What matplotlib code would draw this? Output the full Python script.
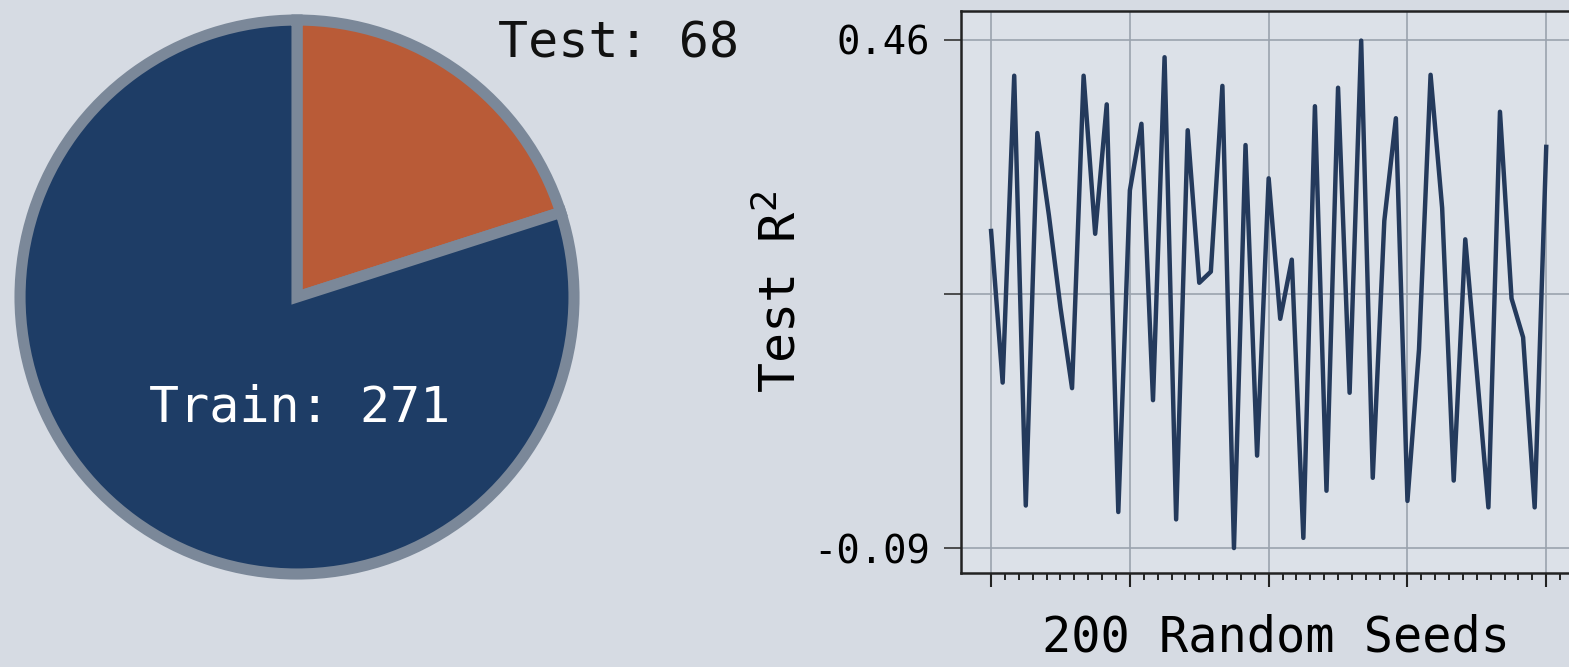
import matplotlib.pyplot as plt
from matplotlib.ticker import FixedLocator

# split sizes
split_labels = ["Train", "Test"]
split_counts = [271, 68]
split_colors = ["#1e3d66", "#b95b37"]

# test R^2 for each seed run
r2_scores = [
    0.253, 0.089, 0.421, -0.044, 0.359, 0.27, 0.17, 0.083, 0.421, 0.250,
    0.390, -0.051, 0.297, 0.369, 0.070, 0.441, -0.059, 0.362, 0.197, 0.209,
    0.410, -0.090, 0.346, 0.010, 0.310, 0.158, 0.222, -0.079, 0.388, -0.028,
    0.408, 0.078, 0.459, -0.014, 0.264, 0.375, -0.039, 0.125, 0.422, 0.278,
    -0.017, 0.244, 0.10, -0.046, 0.382, 0.180, 0.138, -0.046, 0.344,
]
y_ticks = [-0.09, 0.185, 0.46]
y_ticklabels = ["-0.09", "", "0.46"]

bg = "#d6dbe3"
plt.rcParams["font.family"] = ["DejaVu Sans Mono"]

fig = plt.figure(figsize=(15.69, 6.67), dpi=100)
fig.patch.set_facecolor(bg)

# ---pie of the split---
ax1 = fig.add_axes([-0.0049, 0.0979, 0.3884, 0.9136])
ax1.set_facecolor(bg)
# test wedge first, going clockwise from 12 o'clock
ax1.pie(split_counts[::-1], colors=split_colors[::-1], startangle=90, counterclock=False,
        radius=1.0, wedgeprops=dict(edgecolor="#7b8899", linewidth=8))
ax1.set_xlim(-1.1, 1.1)
ax1.set_ylim(-1.1, 1.1)
ax1.axis("off")
ax1.text(0.725, 0.915, f"{split_labels[1]}: {split_counts[1]}", fontsize=36,
         color="#111111", ha="left", va="center")
ax1.text(0.01, -0.40, f"{split_labels[0]}: {split_counts[0]}", fontsize=36,
         color="white", ha="center", va="center")

# ---R^2 across seeds---
ax2 = fig.add_axes([0.6125, 0.1409, 0.401, 0.8426])
ax2.set_facecolor("#dce1e8")
seeds = list(range(len(r2_scores)))
ax2.plot(seeds, r2_scores, color="#243a5c", linewidth=3.2, zorder=3)
ax2.set_xlim(-2.6, 51.8)
ax2.set_ylim(-0.117, 0.491)
ax2.xaxis.set_major_locator(FixedLocator([0, 12, 24, 36, 48]))
ax2.xaxis.set_minor_locator(FixedLocator([i * 1.2 for i in range(41)] + [49.2, 50.4, 51.6]))
ax2.set_xticklabels([])
ax2.set_yticks(y_ticks)
ax2.set_yticklabels(y_ticklabels, fontsize=28)
ax2.tick_params(axis="x", which="major", length=10, width=1.5, color="#222222")
ax2.tick_params(axis="x", which="minor", length=5, width=1.4, color="#222222")
ax2.tick_params(axis="y", length=12, width=1.2, color="#333333", pad=10)
ax2.grid(True, color="#9aa3ae", linewidth=1.2)
for side in ["left", "bottom", "top"]:
    ax2.spines[side].set_color("#222222")
    ax2.spines[side].set_linewidth(1.8)
ax2.spines["right"].set_visible(False)
ax2.set_ylabel("Test R$^2$", fontsize=36, labelpad=6)
ax2.set_xlabel("200 Random Seeds", fontsize=35, labelpad=16)

fig.savefig("out.png", dpi=100, facecolor=bg)
